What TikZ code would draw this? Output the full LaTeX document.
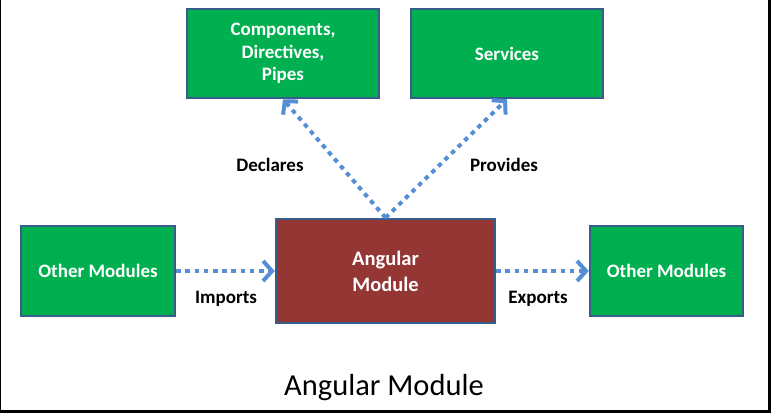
\documentclass[tikz,border=0pt]{standalone}
\usepackage{fontspec}
\setmainfont{Carlito}
\usetikzlibrary{arrows.meta}
\definecolor{modgreen}{HTML}{00B050}
\definecolor{modred}{HTML}{943634}
\definecolor{modline}{HTML}{385D8A}
\definecolor{linkblue}{HTML}{558ED5}
\tikzset{
	box/.style={shape=rectangle,line width=2.5pt,draw=modline,text=white,align=center,inner sep=0pt,font=\fontsize{19}{22.5}\selectfont\bfseries},
	green-box/.style={box,fill=modgreen},
	red-box/.style={box,fill=modred,font=\fontsize{20.5}{26}\selectfont\bfseries},
	link-text/.style={text=black,font=\fontsize{19}{22}\selectfont\bfseries},
}
\tikzstyle{arrow} = [line width=4pt,draw=linkblue,dash pattern=on 4.5pt off 4.7pt,-{Straight Barb[length=9pt,width=20pt]}]

\begin{document}
\begin{tikzpicture}[x=1pt,y=-1pt]
	\useasboundingbox (0,0) rectangle (771,413);
	\fill[black] (0,0) rectangle (1,413);
	\fill[black] (768,0) rectangle (771,413);
	\fill[black] (0,410) rectangle (771,413);

	\node[green-box,minimum width=192pt,minimum height=89pt] (comp) at (283,53.5) {Components,\\Directives,\\Pipes};
	\node[green-box,minimum width=192pt,minimum height=89pt] (serv) at (507,53.5) {Services};
	\node[green-box,minimum width=154pt,minimum height=90pt] (otherL) at (98,271) {Other Modules};
	\node[red-box,minimum width=219pt,minimum height=104pt] (angular) at (385.5,271) {Angular\\Module};
	\node[green-box,minimum width=153pt,minimum height=90pt] (otherR) at (666.5,271) {Other Modules};

	\node[link-text] (declares) at (270,165) {Declares};
	\node[link-text] (provides) at (504,165) {Provides};
	\node[link-text] (imports) at (226,299) {Imports};
	\node[link-text] (exports) at (538,299) {Exports};
	\node[text=black,font=\fontsize{30.5}{34}\selectfont] (title) at (384,388) {Angular Module};

	\draw [arrow] (angular.north) -- (comp.south);
	\draw [arrow] (angular.north) -- (serv.south);
	\draw [arrow] (otherL.east) -- (angular.west);
	\draw [arrow] (angular.east) -- (otherR.west);
\end{tikzpicture}
\end{document}
